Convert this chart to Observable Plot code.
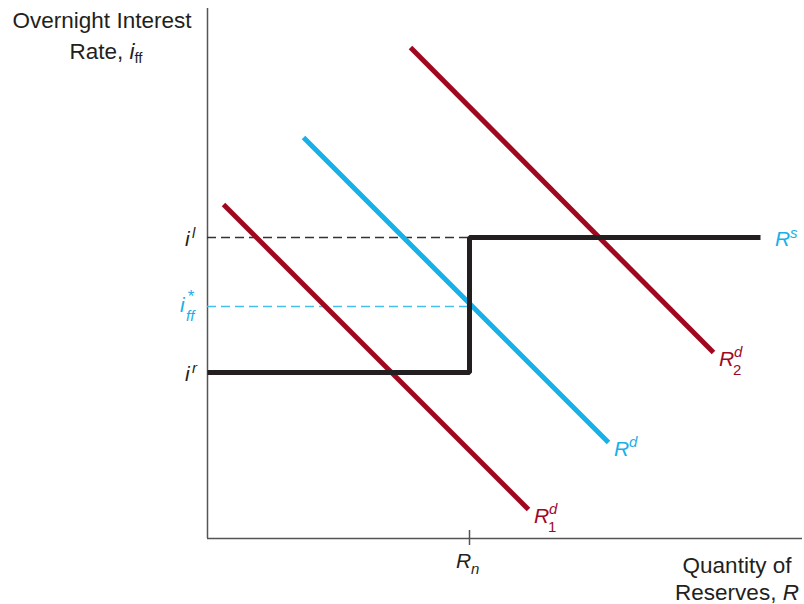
<!DOCTYPE html>
<html><head><meta charset="utf-8">
<script src="https://cdn.jsdelivr.net/npm/d3@7"></script>
<script src="https://cdn.jsdelivr.net/npm/@observablehq/plot@0.6"></script>
<style>body{margin:0;background:#fff} svg{display:block}</style>
</head><body><div id="chart"></div>
<script>
// Axis extents (quantity of reserves, interest rate) in chart units
const xMax = 595;
const yMax = 530;
// Key levels
const Rn = 262;          // reserves where supply curve turns vertical
const iL = 301;          // lending (discount) rate i^l
const iStar = 232;       // equilibrium overnight rate i*_ff
const iR = 166;          // rate paid on reserves i^r
// Demand curves (start, end)
const demandR1X = [16, 321];
const demandR1Y = [334, 29];
const demandRX = [96, 401];
const demandRY = [401, 96];
const demandR2X = [203, 506];
const demandR2Y = [491, 186];
// Supply curve (step)
const supplyX = [0, Rn, Rn, 553];
const supplyY = [iR, iR, iL, iL];

const RED = "#a0081f", BLUE = "#18b0e8", BLACK = "#231f20", AXIS = "#555";

const toPts = (xs, ys, name) => xs.map((x, i) => ({x, y: ys[i], name}));
const curves = [
  ...toPts(demandR1X, demandR1Y, "R1d"),
  ...toPts(demandRX, demandRY, "Rd"),
  ...toPts(demandR2X, demandR2Y, "R2d")
];
const supply = toPts(supplyX, supplyY, "Rs");

const plot = Plot.plot({
  width: 804, height: 604,
  marginLeft: 207, marginRight: 2, marginTop: 8, marginBottom: 66,
  x: {domain: [0, xMax], axis: null},
  y: {domain: [0, yMax], axis: null},
  style: {fontFamily: "Liberation Sans, Arial, sans-serif", background: "white"},
  marks: [
    Plot.ruleY([0], {stroke: AXIS, strokeWidth: 1.5}),
    Plot.ruleX([0], {stroke: AXIS, strokeWidth: 1.5}),
    Plot.ruleX([Rn], {y1: -7, y2: 8, stroke: AXIS, strokeWidth: 1.5}),
    Plot.ruleY([iL], {x1: 0, x2: Rn, stroke: "#333", strokeWidth: 1.3, strokeDasharray: "9,5"}),
    Plot.ruleY([iStar], {x1: 0, x2: Rn, stroke: "#45c0ee", strokeWidth: 1.3, strokeDasharray: "9,5"}),
    Plot.line(curves, {x: "x", y: "y", z: "name", stroke: d => d.name === "Rd" ? BLUE : RED, strokeWidth: 5, strokeLinecap: "butt"}),
    Plot.line(supply, {x: "x", y: "y", stroke: BLACK, strokeWidth: 5, strokeLinecap: "butt", strokeLinejoin: "miter"})
  ]
});
document.getElementById("chart").appendChild(plot);

const sx = plot.scale("x"), sy = plot.scale("y");
const X = v => sx.apply(v), Y = v => sy.apply(v);
const svg = d3.select(plot);
const FS = 21, TS = 22.5;
const FONT = "Liberation Sans, Arial, sans-serif";
function txt(x, y, s, {fill = BLACK, size = FS, italic = false, anchor = "start"} = {}) {
  svg.append("text").attr("x", x).attr("y", y).attr("fill", fill)
    .attr("font-size", size).attr("font-style", italic ? "italic" : "normal")
    .attr("text-anchor", anchor)
    .attr("font-family", FONT).text(s);
}
// Axis titles
txt(102, 28, "Overnight Interest", {anchor: "middle", size: TS});
svg.append("text").attr("x", 106).attr("y", 59).attr("text-anchor", "middle")
  .attr("font-size", TS).attr("fill", BLACK).attr("font-family", FONT)
  .call(t => { t.append("tspan").text("Rate, "); t.append("tspan").attr("font-style", "italic").text("i");
               t.append("tspan").attr("font-size", 15).attr("dy", 4).text("ff"); });
txt(737, 573, "Quantity of", {anchor: "middle", size: TS});
svg.append("text").attr("x", 737).attr("y", 600).attr("text-anchor", "middle")
  .attr("font-size", TS).attr("fill", BLACK).attr("font-family", FONT)
  .call(t => { t.append("tspan").text("Reserves, "); t.append("tspan").attr("font-style", "italic").text("R"); });
// R_n
txt(X(Rn) - 13, Y(0) + 30, "R", {italic: true});
txt(X(Rn) + 2, Y(0) + 36, "n", {italic: true, size: 15});
// Rate labels
txt(X(0) - 22, Y(iL) + 9, "i", {italic: true});
txt(X(0) - 15, Y(iL) + 1, "l", {italic: true, size: 15});
txt(X(0) - 27, Y(iStar) + 6, "i", {italic: true, fill: BLUE});
txt(X(0) - 20, Y(iStar) - 4, "*", {italic: true, fill: BLUE, size: 17});
txt(X(0) - 21, Y(iStar) + 15, "ff", {italic: true, fill: BLUE, size: 15});
txt(X(0) - 22, Y(iR) + 9, "i", {italic: true});
txt(X(0) - 15, Y(iR) + 1, "r", {italic: true, size: 15});
// Curve labels
function curveLabel(xv, yv, sup, sub, color) {
  const x0 = X(xv) + 6, y0 = Y(yv) + 14;
  txt(x0, y0, "R", {italic: true, fill: color});
  txt(x0 + 15, y0 - 9, sup, {italic: true, fill: color, size: 15});
  if (sub) txt(x0 + 14, y0 + 9, sub, {fill: color, size: 15});
}
curveLabel(demandR1X[1], demandR1Y[1], "d", "1", RED);
curveLabel(demandRX[1], demandRY[1], "d", null, BLUE);
curveLabel(demandR2X[1], demandR2Y[1], "d", "2", RED);
txt(X(supplyX[3]) + 15, Y(iL) + 9, "R", {italic: true, fill: BLUE});
txt(X(supplyX[3]) + 30, Y(iL) + 1, "s", {italic: true, fill: BLUE, size: 15});
</script>
</body></html>
